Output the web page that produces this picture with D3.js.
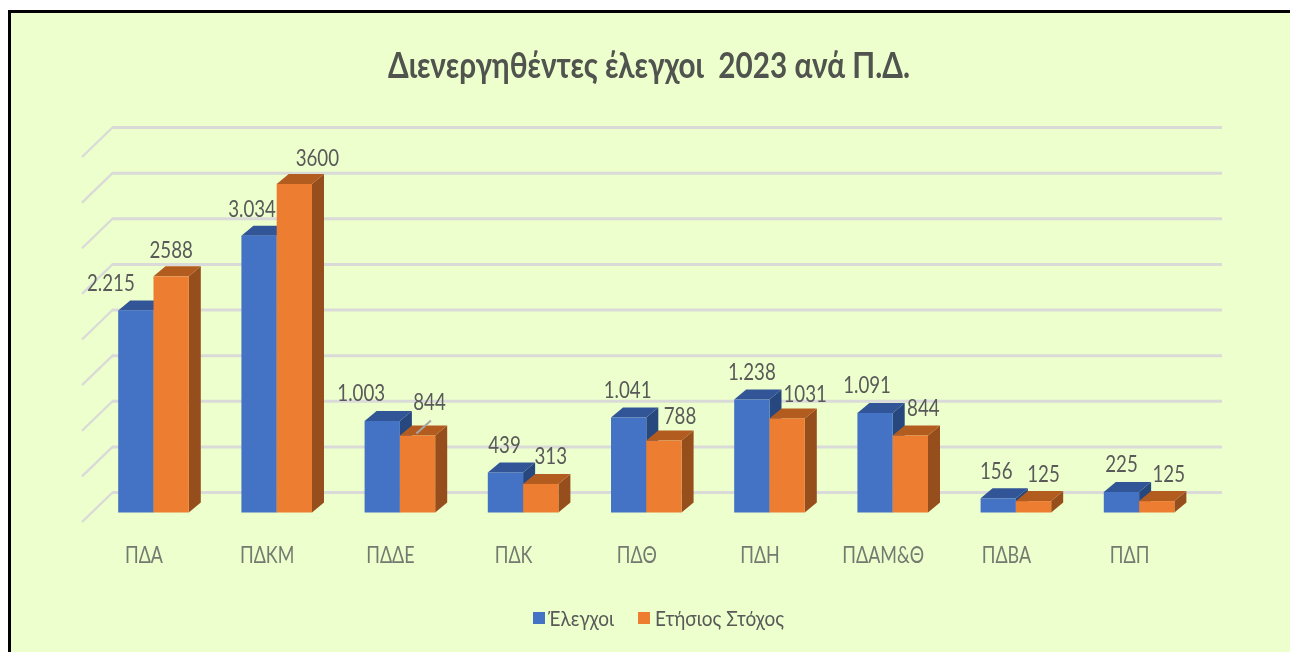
<!DOCTYPE html>
<html lang="el"><head><meta charset="utf-8">
<script src="https://cdn.jsdelivr.net/npm/d3@7"></script>
<style>
html,body{margin:0;padding:0;background:#fff;overflow:hidden}
svg{display:block;filter:blur(0.45px)}
text{font-family:Lato,"Open Sans",sans-serif;white-space:pre}
</style></head><body>
<svg id="c" width="1290" height="652"></svg>
<script>
const categories = ["ΠΔΑ","ΠΔΚΜ","ΠΔΔΕ","ΠΔΚ","ΠΔΘ","ΠΔΗ","ΠΔΑΜ&Θ","ΠΔΒΑ","ΠΔΠ"];
const elegxoi = [2215,3034,1003,439,1041,1238,1091,156,225];
const stoxos  = [2588,3600,844,313,788,1031,844,125,125];
const seriesNames = ["Έλεγχοι","Ετήσιος Στόχος"];
const titleText = "Διενεργηθέντες έλεγχοι  2023 ανά Π.Δ.";
const yTicks = [0,500,1000,1500,2000,2500,3000,3500,4000];
// manual data-label nudges as placed in the original chart [dx,dy] from each bar's top centre
const blueNudge = [[-25,-28],[-7,-27],[-21,-28],[-1,-28],[-1,-28],[0,-28],[-8,-28],[-2,-28],[0,-28]];
const orangeNudge = [[0,-27],[23,-27],[12,-34],[10,-28],[16,-25],[18,-25],[13,-28],[10,-28],[12,-28]];

const svg = d3.select("#c");
const W=1290,H=652;
const BG="#ecffcc", GRID="#dadbd8", TXT="#595959", AX="#757a70";
const blue={front:"#4472c4",top:"#315597",side:"#27477f"};
const orange={front:"#ed7d31",top:"#b35c20",side:"#964f1c"};

svg.append("rect").attr("x",9.5).attr("y",11.5).attr("width",W).attr("height",H)
  .attr("fill",BG).attr("stroke","#000").attr("stroke-width",3);

const x = d3.scaleBand().domain(categories).range([91.9,1200.7]);
const yBack = d3.scaleLinear().domain([0,4000]).range([492,127]);
const frontShift = 20.5;              // floor offset of the bars' front plane
const yFront = v => yBack(v)+frontShift;
const barW = 35.3, depthX = 12, depthY = 10;
const wallX0 = 112, wallX1 = 1222, sideDX = 30;

// gridlines through a D3 axis, plus the diagonal side wall
const gAxis = svg.append("g").attr("transform",`translate(${wallX0},0)`)
  .call(d3.axisRight(yBack).tickValues(yTicks).tickSize(wallX1-wallX0).tickFormat(""));
gAxis.select(".domain").remove();
gAxis.selectAll("line").attr("stroke",GRID).attr("stroke-width",3);
svg.append("g").selectAll("line").data(yTicks).join("line")
  .attr("x1",wallX0+1).attr("y1",d=>yBack(d))
  .attr("x2",wallX0-sideDX).attr("y2",d=>yBack(d)+sideDX)
  .attr("stroke",GRID).attr("stroke-width",2.4);

function bar3d(g,values,offset,col){
  const data=values.map((v,i)=>({v,cat:categories[i]}));
  const left=d=>x(d.cat)+x.bandwidth()/2+offset;
  const base=yFront(0);
  g.selectAll(".side").data(data).join("path").attr("fill",col.side)
    .attr("d",d=>{const r=left(d)+barW,t=yFront(d.v);
      return d3.line()([[r,t],[r+depthX,t-depthY],[r+depthX,base-depthY],[r,base]])+"Z";});
  g.selectAll(".top").data(data).join("path").attr("fill",col.top)
    .attr("d",d=>{const l=left(d),t=yFront(d.v);
      return d3.line()([[l,t],[l+depthX,t-depthY],[l+barW+depthX,t-depthY],[l+barW,t]])+"Z";});
  g.selectAll(".front").data(data).join("rect").attr("fill",col.front)
    .attr("x",left).attr("y",d=>yFront(d.v)).attr("width",barW).attr("height",d=>base-yFront(d.v));
}
bar3d(svg.append("g"),elegxoi,-barW,blue);
bar3d(svg.append("g"),stoxos,0,orange);

// leader line of the moved label
const leadI = categories.indexOf("ΠΔΔΕ");
const leadX = x(categories[leadI])+x.bandwidth()/2;
svg.append("line").attr("x1",leadX+16.5).attr("y1",yFront(stoxos[leadI])-2)
  .attr("x2",leadX+31).attr("y2",yFront(stoxos[leadI])-15)
  .attr("stroke","#a6a6a6").attr("stroke-width",2);

const squeeze=.78;
const fmtDot=d3.formatLocale({decimal:",",thousands:".",grouping:[3],currency:["",""]}).format(",d");
function labels(values,offset,nudge,fmt){
  svg.append("g").selectAll("text").data(values).join("text")
    .attr("text-anchor","middle").attr("font-size",24).attr("fill",TXT)
    .attr("transform",(d,i)=>{
      const cx=x(categories[i])+x.bandwidth()/2+offset+barW/2+nudge[i][0];
      const cy=yFront(d)+nudge[i][1]+8.5;
      return `translate(${cx},${cy}) scale(${squeeze},1)`;})
    .text(fmt);
}
labels(elegxoi,-barW,blueNudge,fmtDot);
labels(stoxos,0,orangeNudge,d=>String(d));

// category axis
svg.append("g").call(g=>{
  g.attr("transform","translate(-9.5,563)").call(d3.axisBottom(x).tickSize(0).tickPadding(0));
  g.select(".domain").remove();
  g.selectAll("text").attr("dy",0).attr("y",0).attr("font-size",23).attr("fill",AX)
   .attr("font-family","Lato").attr("transform","scale(.78,1)").attr("text-anchor","middle");
});

// title
svg.append("text").attr("x",649).attr("y",78).attr("text-anchor","middle")
  .attr("font-size",36).attr("font-weight",700).attr("fill","#50534e")
  .attr("textLength",522).attr("lengthAdjust","spacingAndGlyphs").text(titleText);

// legend
const legend=[[533,548,66,blue.front],[638,655,129,orange.front]];
const lg=svg.append("g");
seriesNames.forEach((n,i)=>{
  const [sx,tx,tw,c]=legend[i];
  lg.append("rect").attr("x",sx).attr("y",612).attr("width",12).attr("height",12).attr("fill",c);
  lg.append("text").attr("x",tx).attr("y",626).attr("font-size",22).attr("fill",TXT)
    .attr("textLength",tw).attr("lengthAdjust","spacingAndGlyphs").text(n);
});
</script></body></html>
